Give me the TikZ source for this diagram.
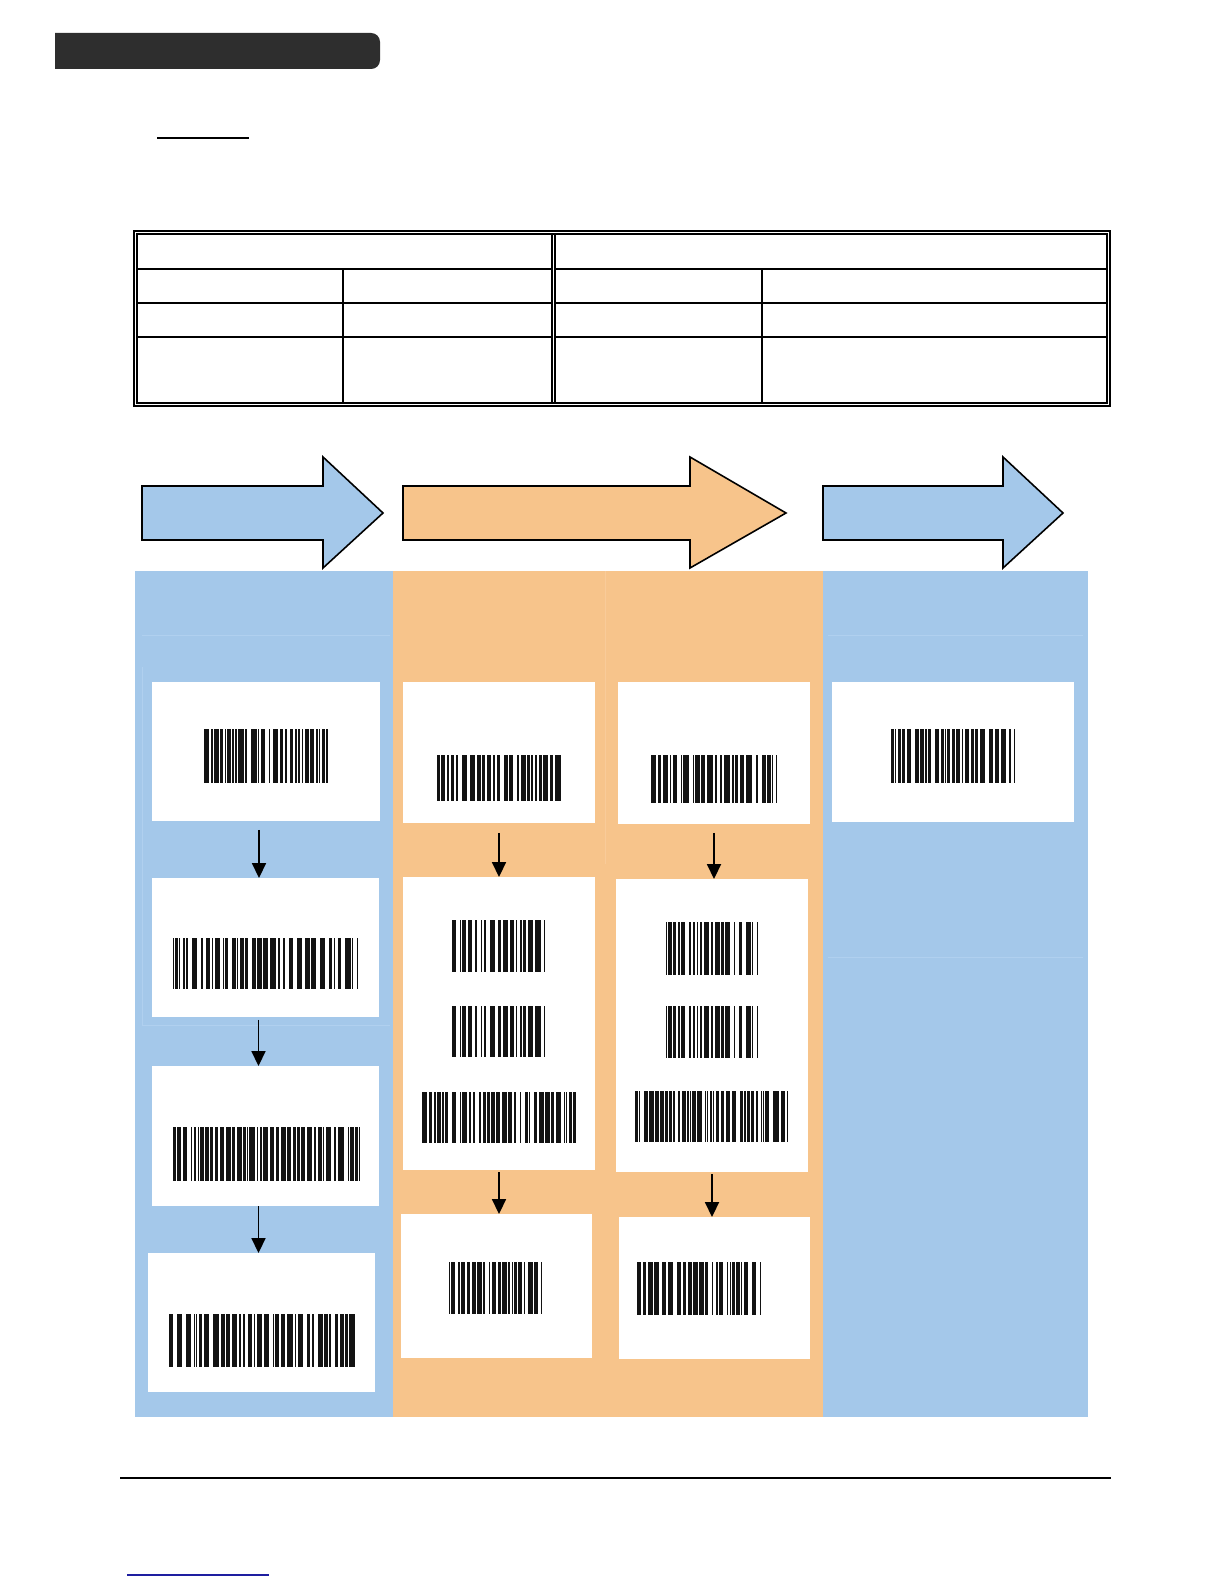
\documentclass[tikz,border=0pt]{standalone}
\usepackage{tikz}
\usetikzlibrary{calc,fit,arrows.meta}
\definecolor{paleblue}{RGB}{164,200,234}
\definecolor{paleorange}{RGB}{247,196,139}
\definecolor{seamblue}{RGB}{176,208,239}
\definecolor{seamorange}{RGB}{249,203,153}
\definecolor{titlebar}{RGB}{46,46,46}
\definecolor{linkblue}{RGB}{30,30,160}

% штрихкод: x1, y1, x2, y2, seed
\newcommand\bcode[5]{%
  \pgfmathsetseed{#5}%
  \pgfmathsetmacro\bcx{#1}%
  \loop
    \pgfmathsetmacro\bcend{\bcx+1.3*random(1,4)}%
    \ifdim\bcend pt<#3pt
      \fill[barfill] (\bcx,#2) rectangle (\bcend,#4);
      \pgfmathsetmacro\bcg{random(1,6)==6 ? 4 : 1.1*random(1,2)}%
      \pgfmathsetmacro\bcx{\bcend+\bcg}%
  \repeat
  \fill[barfill] (#3-1.3,#2) rectangle (#3,#4);%
}

\tikzset{
  card/.style={fill=white, inner sep=0pt, outer sep=0pt},
  barfill/.style={fill=black!93},
  flowarr/.style={-{Triangle[width=8pt,length=8.5pt]}, line width=0.9pt},
  bigarr/.style={draw=black, line width=0.9pt, line join=miter},
  seam/.style={line width=0.5pt},
}

\begin{document}
\begin{tikzpicture}[x=0.02cm, y=-0.02cm]
  \useasboundingbox (0,0) rectangle (1224,1584);

  % Заголовок
  \fill[titlebar, rounded corners=5] (55,33) -- (380,33) -- (380,69) -- (55,69) [sharp corners] -- cycle;
  \fill[titlebar] (55,33) rectangle (300,69);
  \draw[line width=1.7*0.567pt] (157,138) -- (249,138);

  % Таблиця
  \draw[line width=1pt] (134,231) rectangle (1110,406);
  \draw[line width=0.6pt] (137,234) rectangle (1107,403);
  \draw[line width=0.6pt] (552,234) -- (552,403);
  \draw[line width=0.6pt] (555,234) -- (555,403);
  \draw[line width=0.6pt] (137,269) -- (552,269) (555,269) -- (1107,269);
  \draw[line width=1.4pt] (137,303) -- (552,303) (555,303) -- (1107,303);
  \draw[line width=0.6pt] (137,337) -- (552,337) (555,337) -- (1107,337);
  \draw[line width=0.6pt] (343,269) -- (343,403);
  \draw[line width=0.6pt] (762,269) -- (762,403);

  % Колонки
  \fill[paleblue] (135,571) rectangle (393,1417);
  \fill[paleorange] (393,571) rectangle (823,1417);
  \fill[paleblue] (823,571) rectangle (1088,1417);
  \draw[seam, seamblue] (142,635) -- (390,635) (142,667) -- (142,1025) (142,1025) -- (390,1025);
  \draw[seam, seamblue] (828,635) -- (1083,635) (828,957) -- (1083,957);
  \draw[seam, seamorange] (605,571) -- (605,864);

  % Великі стрілки
  \draw[bigarr, fill=paleblue] (142,486) -- (323,486) -- (323,457) -- (383,513)
    -- (323,568) -- (323,540) -- (142,540) -- cycle;
  \draw[bigarr, fill=paleorange] (403,486) -- (690,486) -- (690,457) -- (786,513)
    -- (690,568) -- (690,540) -- (403,540) -- cycle;
  \draw[bigarr, fill=paleblue] (823,486) -- (1003,486) -- (1003,457) -- (1063,513)
    -- (1003,568) -- (1003,540) -- (823,540) -- cycle;

  % Картки
  \node[card, fit={(152,682) (380,821)}] (c1a) {};
  \node[card, fit={(152,878) (379,1017)}] (c1b) {};
  \node[card, fit={(152,1066) (379,1206)}] (c1c) {};
  \node[card, fit={(148,1253) (375,1392)}] (c1d) {};
  \node[card, fit={(403,682) (595,823)}] (c2a) {};
  \node[card, fit={(403,877) (595,1170)}] (c2b) {};
  \node[card, fit={(401,1214) (592,1358)}] (c2c) {};
  \node[card, fit={(618,682) (810,824)}] (c3a) {};
  \node[card, fit={(616,879) (808,1172)}] (c3b) {};
  \node[card, fit={(619,1217) (810,1359)}] (c3c) {};
  \node[card, fit={(832,682) (1074,822)}] (c4a) {};

  % Штрихкоди
  \bcode{204}{729}{328}{783}{11}
  \bcode{173}{938}{358}{989}{12}
  \bcode{173}{1127}{360}{1181}{13}
  \bcode{169}{1314}{355}{1367}{14}
  \bcode{437}{755}{561}{801}{21}
  \bcode{452}{920}{545}{972}{22}
  \bcode{452}{1006}{545}{1057}{22}
  \bcode{422}{1092}{576}{1143}{23}
  \bcode{449}{1262}{542}{1314}{24}
  \bcode{651}{755}{777}{803}{31}
  \bcode{666}{922}{758}{975}{32}
  \bcode{666}{1006}{758}{1058}{32}
  \bcode{635}{1091}{788}{1142}{33}
  \bcode{637}{1262}{761}{1315}{34}
  \bcode{891}{729}{1015}{783}{41}

  % Стрілки між картками
  \coordinate (s1) at ($(c1a.south)+(-7,0)$);
  \coordinate (s2) at ($(c1b.south)+(-7,0)$);
  \coordinate (s3) at ($(c1c.south)+(-7,0)$);
  \draw[flowarr, shorten <=9*0.567pt] (s1) -- (s1 |- c1b.north);
  \draw[flowarr, shorten <=3*0.567pt] (s2) -- (s2 |- c1c.north);
  \draw[flowarr] (s3) -- (s3 |- c1d.north);
  \draw[flowarr, shorten <=10*0.567pt] (c2a.south) -- (c2a.south |- c2b.north);
  \draw[flowarr, shorten <=2*0.567pt] (c2b.south) -- (c2b.south |- c2c.north);
  \draw[flowarr, shorten <=9*0.567pt] (c3a.south) -- (c3a.south |- c3b.north);
  \draw[flowarr, shorten <=2*0.567pt] (c3b.south) -- (c3b.south |- c3c.north);

  % Низ сторінки
  \draw[line width=1.2pt] (120,1478) -- (1111,1478);
  \draw[linkblue, line width=0.6pt] (127,1575) -- (269,1575);
\end{tikzpicture}
\end{document}
